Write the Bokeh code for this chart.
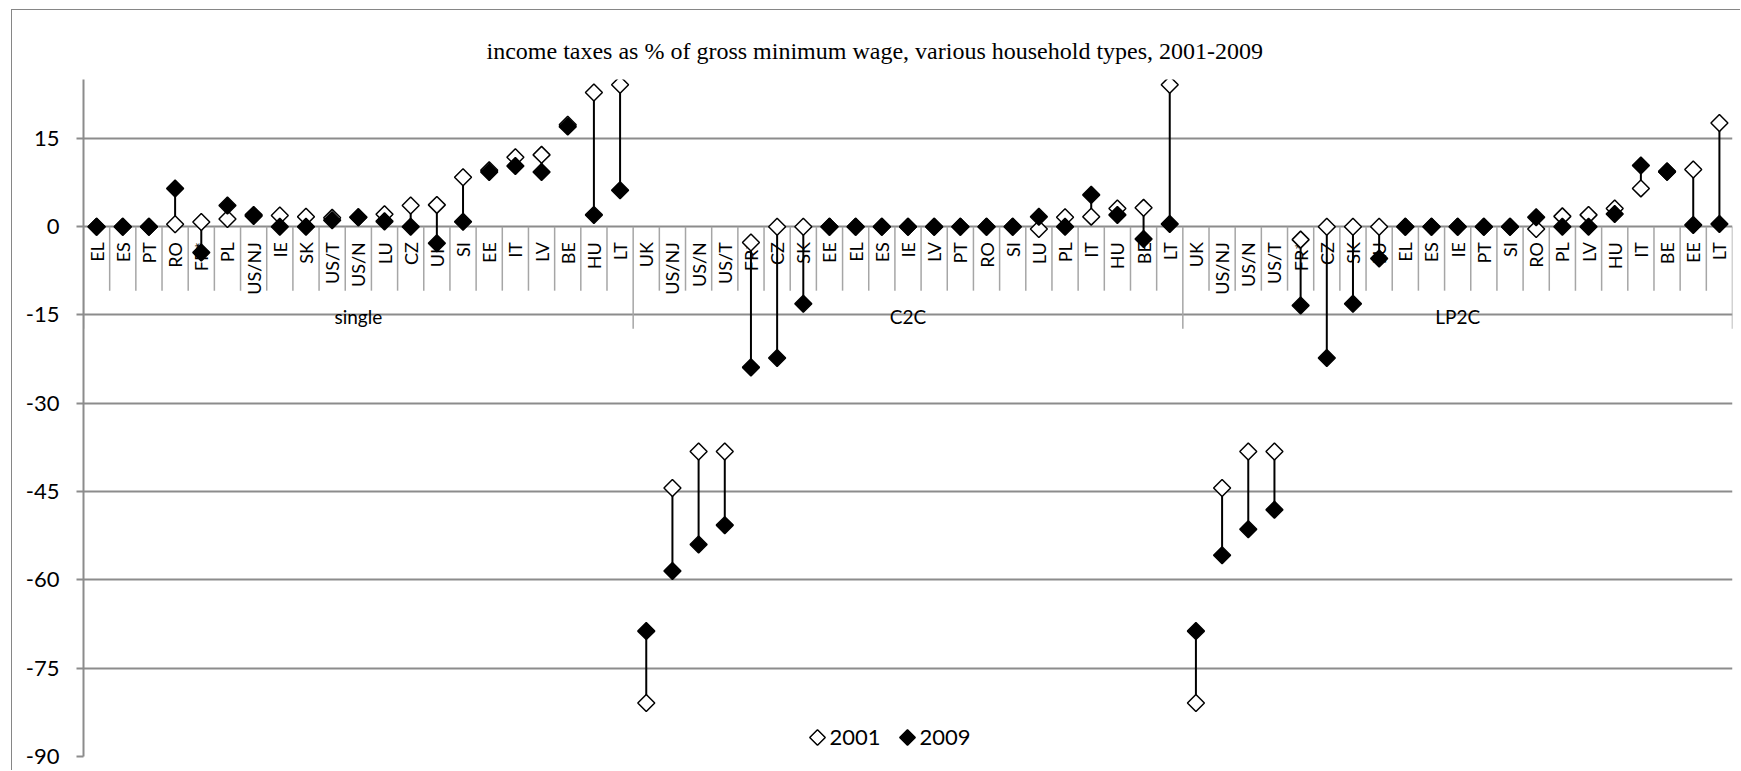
import numpy as np
from bokeh.plotting import figure
from bokeh.models import Range1d, FixedTicker
from bokeh.core.properties import value
from bokeh.embed import file_html
from bokeh.resources import INLINE

# ---------------- data ----------------
groups = ["single", "C2C", "LP2C"]

single_cats = ["EL", "ES", "PT", "RO", "FR*", "PL", "US/NJ", "IE", "SK", "US/T", "US/N",
               "LU", "CZ", "UK", "SI", "EE", "IT", "LV", "BE", "HU", "LT"]
single_2001 = [0, 0, 0, 0.4, 0.8, 1.3, 1.8, 1.9, 1.7, 1.5, 1.6,
               2.1, 3.6, 3.7, 8.4, 9.6, 11.8, 12.2, 17.3, 22.8, 24.1]
single_2009 = [0, 0, 0, 6.5, -4.4, 3.6, 2.0, 0, 0, 1.1, 1.6,
               0.9, 0, -2.8, 0.85, 9.3, 10.3, 9.3, 17.0, 2.0, 6.2]

c2c_cats = ["UK", "US/NJ", "US/N", "US/T", "FR*", "CZ", "SK", "EE", "EL", "ES", "IE",
            "LV", "PT", "RO", "SI", "LU", "PL", "IT", "HU", "BE", "LT"]
c2c_2001 = [-80.9, -44.4, -38.2, -38.2, -2.7, 0, 0, 0, 0, 0, 0,
            0, 0, 0, 0, -0.4, 1.6, 1.7, 3.1, 3.2, 24.1]
c2c_2009 = [-68.7, -58.5, -54.0, -50.7, -23.9, -22.3, -13.1, 0, 0, 0, 0,
            0, 0, 0, 0, 1.7, 0, 5.4, 2.0, -2.1, 0.45]

lp2c_cats = ["UK", "US/NJ", "US/N", "US/T", "FR*", "CZ", "SK", "LU", "EL", "ES", "IE",
             "PT", "SI", "RO", "PL", "LV", "HU", "IT", "BE", "EE", "LT"]
lp2c_2001 = [-80.9, -44.4, -38.2, -38.2, -2.2, 0, 0, 0, 0, 0, 0,
             0, 0, -0.4, 1.75, 2.0, 3.1, 6.5, 9.35, 9.7, 17.6]
lp2c_2009 = [-68.7, -55.8, -51.4, -48.1, -13.4, -22.3, -13.1, -5.4, 0, 0, 0,
             0, 0, 1.6, 0, 0, 2.15, 10.4, 9.35, 0.3, 0.45]

y_ticks = [-90, -75, -60, -45, -30, -15, 0, 15]
series_names = ["2001", "2009"]
title_text = "income taxes as % of gross minimum wage, various household types, 2001-2009"

# ---------------- assemble ----------------
cats = single_cats + c2c_cats + lp2c_cats
v2001 = single_2001 + c2c_2001 + lp2c_2001
v2009 = single_2009 + c2c_2009 + lp2c_2009
n = len(cats)
gsize = len(single_cats)
xs = [i + 0.5 for i in range(n)]

# layout (pixels)
W, H = 1729, 761
ML, MT, MR, MB = 71, 69, 9, 15
Y0, Y1 = -90, 25
frame_w = W - ML - MR
frame_h = H - MT - MB
ppu = frame_h / (Y1 - Y0)          # pixels per y unit
ppx = frame_w / n                  # pixels per category

GRID = "#8c8c8c"
SEP = "#a6a6a6"
SANS = "Lato"

p = figure(width=W, height=H, x_range=Range1d(0, n), y_range=Range1d(Y0, Y1),
           x_axis_type=None, output_backend="svg", toolbar_location=None,
           min_border_left=ML, min_border_top=MT, min_border_right=MR, min_border_bottom=MB)
p.outline_line_color = None
p.background_fill_color = "white"
p.border_fill_color = "white"
p.styles = {"border-top": "1px solid #868686", "border-left": "1px solid #868686",
            "margin-left": "11px", "margin-top": "9px"}

# title
p.title.text = title_text
p.title.align = "left"
p.title.offset = 403
p.title.standoff = 32
p.title.text_font = "Liberation Serif"
p.title.text_font_size = "24px"
p.title.text_font_style = "normal"
p.title.text_color = "black"

# y axis & grid
p.yaxis.ticker = FixedTicker(ticks=y_ticks)
p.ygrid.ticker = FixedTicker(ticks=y_ticks)
p.yaxis.major_label_overrides = {t: str(t) for t in y_ticks}
p.yaxis.major_label_text_font = SANS
p.yaxis.major_label_text_font_size = "22px"
p.yaxis.major_label_text_color = "black"
p.yaxis.major_label_standoff = 17
p.yaxis.axis_line_color = GRID
p.yaxis.axis_line_width = 2
p.yaxis.major_tick_line_color = GRID
p.yaxis.major_tick_line_width = 2
p.yaxis.major_tick_out = 7
p.yaxis.major_tick_in = 0
p.yaxis.minor_tick_line_color = None
p.ygrid.grid_line_color = GRID
p.ygrid.grid_line_width = 2

# category separators (multi-level axis)
cat_sep_len = 64 / ppu
grp_sep_len = 102 / ppu
cat_sep_x = [i for i in range(1, n) if i % gsize != 0]
grp_sep_x = [i for i in range(0, n + 1, gsize)]
p.segment(x0=cat_sep_x, y0=[0] * len(cat_sep_x), x1=cat_sep_x, y1=[-cat_sep_len] * len(cat_sep_x),
          line_color=SEP, line_width=1.5)
p.segment(x0=grp_sep_x, y0=[0] * len(grp_sep_x), x1=grp_sep_x, y1=[-grp_sep_len] * len(grp_sep_x),
          line_color=SEP, line_width=1.5)

# category labels
lab_y = -15.5 / ppu
p.text(x=xs, y=[lab_y] * n, text=cats, angle=np.pi / 2, text_align="right",
       text_baseline="middle", text_font=value(SANS), text_font_size="18px", text_color="black")
grp_x = [gsize * (k + 0.5) for k in range(len(groups))]
p.text(x=grp_x, y=[-90 / ppu] * len(groups), text=groups, text_align="center",
       text_baseline="middle", text_font=value(SANS), text_font_size="19px", text_color="black")

# high-low lines
p.segment(x0=xs, y0=v2001, x1=xs, y1=v2009, line_color="black", line_width=2)

# markers
MSIZE = 12
p.scatter(xs, v2001, marker="square", angle=np.pi / 4, size=MSIZE,
          fill_color="white", line_color="black", line_width=1.5)
p.scatter(xs, v2009, marker="square", angle=np.pi / 4, size=MSIZE,
          fill_color="black", line_color="black", line_width=1.5)

# legend (bottom centre, drawn with rotated squares like the chart markers)
LEG_Y_PX = 19                       # distance of legend centre above frame bottom
LEG_MARK_X_PX = [734, 824]          # marker centres from frame left
LEG_TEXT_X_PX = [746, 836]          # label starts from frame left
leg_y = Y0 + LEG_Y_PX / ppu
leg_mx = [v / ppx for v in LEG_MARK_X_PX]
leg_tx = [v / ppx for v in LEG_TEXT_X_PX]
p.scatter(leg_mx, [leg_y] * 2, marker="square", angle=np.pi / 4, size=MSIZE - 1,
          fill_color=["white", "black"], line_color="black", line_width=1.5)
p.text(x=leg_tx, y=[leg_y] * 2, text=series_names, text_align="left", text_baseline="middle",
       text_font=value(SANS), text_font_size="22px", text_color="black")

open("out.html", "w").write(file_html(p, INLINE))
